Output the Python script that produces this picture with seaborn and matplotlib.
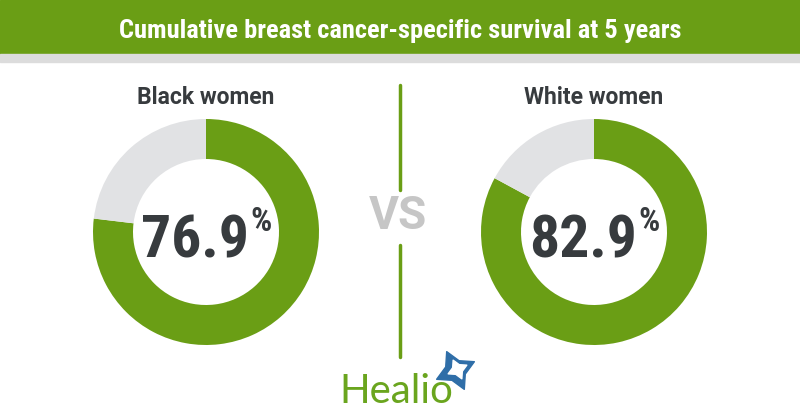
import matplotlib
matplotlib.use("Agg")
import matplotlib.pyplot as plt
import seaborn as sns
from matplotlib import font_manager

groups = ["Black women", "White women"]
survival = [76.9, 82.9]
title = "Cumulative breast cancer-specific survival at 5 years"

sns.set_theme(style="white")
names = {f.name for f in font_manager.fontManager.ttflist}
cond = None
for cand in ["Roboto Condensed", "Liberation Sans Narrow", "Open Sans Condensed",
             "Noto Sans Condensed", "DejaVu Sans Condensed"]:
    if cand in names:
        cond = cand
        break
plt.rcParams["font.family"] = ["Roboto", "DejaVu Sans"]
COND = [cond, "Roboto", "DejaVu Sans"] if cond else ["Roboto", "DejaVu Sans"]

GREEN = "#6a9e15"
GRAY = "#e1e2e4"
DARK = "#373b3e"
H = 420

fig = plt.figure(figsize=(8, 4.2), dpi=100)
ax = fig.add_axes([0, 0, 1, 1])
ax.set_xlim(0, 800)
ax.set_ylim(0, H)

def Y(py):
    return H - py

# header
ax.add_patch(plt.Rectangle((0, Y(54)), 800, 54, color=GREEN, zorder=1))
ax.add_patch(plt.Rectangle((0, Y(62)), 800, 8, color="#dcdcdc", zorder=1))
tt = ax.text(400, Y(31), title, ha="center", va="center", color="white",
             fontsize=19, fontweight="bold", family=COND)
fig.canvas.draw()
w = tt.get_window_extent().width
if w > 570:
    tt.set_fontsize(19 * 566 / w)

centers = [206, 594]
for cx, g, v in zip(centers, groups, survival):
    ax.pie([v, 100 - v], colors=[GREEN, GRAY], startangle=90, counterclock=False,
           radius=113, center=(cx, Y(232)), frame=True,
           wedgeprops=dict(width=40, linewidth=0))
    ax.set_xlim(0, 800)
    ax.set_ylim(0, H)
    ax.text(cx, Y(98), g, ha="center", va="center", color=DARK,
            fontsize=16.5, fontweight="bold")
    t = ax.text(cx - 11, Y(257), f"{v:.1f}", ha="center", va="baseline", color=DARK,
                fontsize=50, fontweight="bold", family=COND)
    fig.canvas.draw()
    bb = t.get_window_extent()
    if bb.width > 112:
        t.set_fontsize(50 * 108 / bb.width)
        fig.canvas.draw()
        bb = t.get_window_extent()
    ax.text(bb.x1 + 1, Y(206), "%", ha="left", va="top", color=DARK,
            fontsize=24, fontweight="bold", family=COND)

# VS and divider
ax.text(398, Y(216), "VS", ha="center", va="center", color="#c6c6c6",
        fontsize=33, fontweight="bold")
ax.plot([400, 400], [Y(85), Y(190)], color=GREEN, lw=2.5)
ax.plot([400, 400], [Y(245), Y(357)], color=GREEN, lw=2.5)

# logo
ax.text(396, Y(403), "Healio", ha="center", va="baseline", color="#6aa51e",
        fontsize=29, family=["Lato", "DejaVu Sans"])
ax.scatter([455], [Y(370)], marker=(4, 1, 25), s=900, color="#2f6ea8", zorder=5)
ax.scatter([457], [Y(369)], marker=(4, 1, 25), s=220, color="white", zorder=6)

ax.set_xlim(0, 800)
ax.set_ylim(0, H)
ax.set_aspect("equal")
ax.axis("off")
fig.savefig("out.png", dpi=100, facecolor="white")
